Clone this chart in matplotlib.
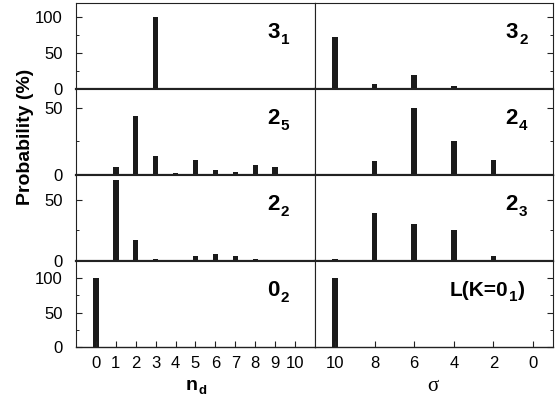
import matplotlib
matplotlib.use("Agg")
import matplotlib.pyplot as plt
from matplotlib.ticker import FixedLocator

plt.rcParams['font.family'] = ['Liberation Sans', 'DejaVu Sans']

# ---- data ----
nd = list(range(0, 11))
sigma = [10, 8, 6, 4, 2, 0]

p_3_1 = [0, 0, 0, 100, 0, 0, 0, 0, 0, 0, 0]
p_2_5 = [0, 5.7, 43.8, 14.4, 1.7, 11.4, 3.7, 2.5, 7.5, 5.7, 1.0]
p_2_2 = [0, 65.7, 17.0, 1.6, 0.8, 4.3, 5.4, 4.3, 1.6, 0.8, 0.5]
p_0_2 = [100, 0, 0, 0, 0, 0, 0, 0, 0, 0, 0]

p_3_2 = [72, 7, 20, 4, 0, 0]
p_2_4 = [1, 10.4, 50.2, 25.6, 11, 0]
p_2_3 = [1.6, 39, 30, 25.4, 4, 0]
p_L = [100, 0, 0, 0, 0, 0]

left_series = [p_3_1, p_2_5, p_2_2, p_0_2]
right_series = [p_3_2, p_2_4, p_2_3, p_L]
# (main text, subscript, trailing text)
left_labels = [('3', '1', ''), ('2', '5', ''), ('2', '2', ''), ('0', '2', '')]
right_labels = [('3', '2', ''), ('2', '4', ''), ('2', '3', ''), ('L(K=0', '1', ')')]

ylims = [119, 64, 70, 125]
ymajor = [[0, 50, 100], [0, 50], [0, 50], [0, 50, 100]]
yminor = [[25, 75], [25], [25], [25, 75]]

bar_color = '#1a1a1a'
SUB_FS = 11


def panel_label(ax, parts, xr, fs):
    main, sub, trail = parts
    t = ax.text(xr, 0.595, main, transform=ax.transAxes, ha='right', va='baseline',
                fontsize=fs, fontweight='bold')
    s = ax.annotate(sub, xy=(1, 0), xycoords=t, xytext=(0.8, -0.5), textcoords='offset points',
                    ha='left', va='baseline', fontsize=SUB_FS, fontweight='bold')
    if trail:
        ax.annotate(trail, xy=(1, 0), xycoords=(s, t), xytext=(0.3, 0), textcoords='offset points',
                    ha='left', va='bottom', fontsize=fs, fontweight='bold')


fig = plt.figure(figsize=(5.56, 4.09), dpi=100)
L, R, M = 76 / 556, 553 / 556, 315 / 556
T, B = 1 - 3 / 409, 1 - 347 / 409
h = (T - B) / 4

for r in range(4):
    bottom = T - (r + 1) * h
    axl = fig.add_axes([L, bottom, M - L, h])
    axr = fig.add_axes([M, bottom, R - M, h])

    axl.bar(nd, left_series[r], width=0.27, color=bar_color)
    axr.bar(sigma, right_series[r], width=0.27, color=bar_color)

    axl.set_xlim(-1, 11)
    axr.set_xlim(11, -1)
    for ax in (axl, axr):
        ax.set_ylim(0, ylims[r])
        ax.yaxis.set_major_locator(FixedLocator(ymajor[r]))
        ax.yaxis.set_minor_locator(FixedLocator(yminor[r]))
        for s in ax.spines.values():
            s.set_linewidth(0.8)
            s.set_color('#222222')
        ax.spines['bottom'].set_linewidth(1.6)
        ax.tick_params(which='both', direction='in', color='#222222', labelsize=12, pad=9.5)
        ax.tick_params(which='major', length=4, width=0.8)
        ax.tick_params(which='minor', length=2.5, width=0.7)

    axl.tick_params(axis='y', which='both', left=True, right=False, labelleft=True)
    axr.tick_params(axis='y', which='both', left=False, right=True, labelleft=False, labelright=False)

    if r == 3:
        axl.set_xticks(nd)
        axr.set_xticks(sigma)
        axl.tick_params(axis='x', which='major', bottom=True, labelbottom=True, pad=6.5)
        axr.tick_params(axis='x', which='major', bottom=True, labelbottom=True, pad=6.5)
        axl.spines['bottom'].set_linewidth(1.0)
        axr.spines['bottom'].set_linewidth(1.0)
    else:
        axl.set_xticks([])
        axr.set_xticks([])

    panel_label(axl, left_labels[r], 0.853, 16)
    if right_labels[r][2]:
        panel_label(axr, right_labels[r], 0.81, 15)
    else:
        panel_label(axr, right_labels[r], 0.853, 16)

fig.text(25 / 556, 1 - 137 / 409, 'Probability (%)', rotation=90, ha='center', va='center',
         fontsize=14, fontweight='bold')
nt = fig.text(198 / 556, 1 - 390 / 409, 'n', ha='right', va='baseline', fontsize=14,
              fontweight='bold')
ax0 = fig.axes[0]
ax0.annotate('d', xy=(1, 0), xycoords=nt, xytext=(0.5, 0), textcoords='offset points',
             ha='left', va='baseline', fontsize=9.5, fontweight='bold', annotation_clip=False)
fig.text(433 / 556, 1 - 391 / 409, 'σ', ha='center', va='baseline', fontsize=15,
         family=['Liberation Serif', 'DejaVu Serif'])

fig.savefig('out.png', dpi=100)
